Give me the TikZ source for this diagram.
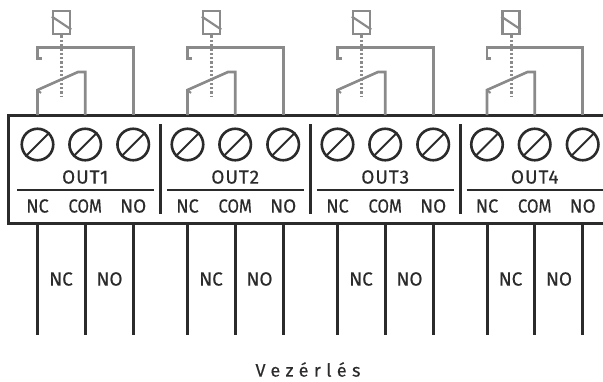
\documentclass[tikz,border=0pt]{standalone}
\usepackage{fontspec}
\usetikzlibrary{calc}
\setmainfont{Fira Sans}
\definecolor{relaygray}{HTML}{8A8A8A}
\definecolor{inkdark}{HTML}{2B2B2B}
\tikzset{
  x=1pt,y=-1pt,
  relay/.style={draw=relaygray,line width=2.6pt,line join=miter},
  dark/.style={draw=inkdark,line width=3pt},
  thin rule/.style={draw=inkdark,line width=1.4pt},
  screw/.style={circle,draw=inkdark,line width=2.6pt,minimum size=31.5pt,inner sep=0pt},
  lab/.style={inner sep=0pt,text=inkdark,font=\fontsize{19}{19}\selectfont\addfontfeatures{FakeBold=0.4}},
}
\begin{document}
\begin{tikzpicture}
\useasboundingbox (0,0) rectangle (603,381);
% enclosure
\coordinate (tl) at (8.5,115.5);
\coordinate (bl) at (8.5,223);
\coordinate (tr) at (603,115.5);
\coordinate (br) at (603,223);
\draw[dark] (tr) -- (tl) -- (bl) -- (br);
\foreach \i/\dx in {1/0,2/150,3/300,4/449.5}{
  \begin{scope}[shift={(\dx,0)}]
    % wires
    \coordinate (a\i) at (37.5,115);
    \coordinate (b\i) at (85.2,115);
    \coordinate (c\i) at (133.2,115);
    \coordinate (ad\i) at (37.5,223);
    \coordinate (bd\i) at (85.2,223);
    \coordinate (cd\i) at (133.2,223);
    \coordinate (ae\i) at (37.5,335);
    \coordinate (be\i) at (85.2,335);
    \coordinate (ce\i) at (133.2,335);
    \draw[dark] (ad\i) -- (ae\i);
    \draw[dark] (bd\i) -- (be\i);
    \draw[dark] (cd\i) -- (ce\i);
    % relay
    \node[draw=relaygray,line width=2.4pt,minimum width=17pt,minimum height=23.5pt,inner sep=0pt] (coil\i) at (61.5,22.5) {};
    \draw[relay,line width=2.2pt] ($(coil\i.north west)+(0,7)$) -- ($(coil\i.south east)+(0,-6)$);
    \coordinate (dot\i) at (61.5,96);
    \draw[relaygray,line width=3pt,dash pattern=on 2.3pt off 2pt] (coil\i.south) -- (dot\i);
    \draw[relay] (41.5,58.5) -- (37.5,58.5) -- (37.5,47.5) -- (133.2,47.5) -- (c\i);
    \draw[relay] (a\i) -- (37.5,90) -- (78,72) -- (85.2,72) -- (b\i);
    \draw[relay,line width=2pt] (37.5,90) -- (41,93);
    % screws
    \foreach \n/\x in {s/37.5,t/85.2,u/133.2}{
      \node[screw] (\n\i) at (\x,144.5) {};
      \draw[inkdark,line width=2pt] (\n\i.225) -- (\n\i.45);
    }
    % labels
    \node[lab,font=\fontsize{19}{19}\selectfont\addfontfeatures{FakeBold=0.4,LetterSpace=5}] (out\i) at (85.2,177) {OUT\i};
    \draw[thin rule] (17,190) -- (154,190);
    \node[lab,xscale=.95] (nc\i) at (37.5,206) {NC};
    \node[lab,xscale=.88] (com\i) at (85.2,206) {COM};
    \node[lab] (no\i) at (133.2,206) {NO};
    \node[lab] (wnc\i) at (61,279) {NC};
    \node[lab] (wno\i) at (109.5,279) {NO};
  \end{scope}
}
\foreach \x in {160,310,460}{
  \draw[dark] (\x,124) -- (\x,214);
}
\node[inner sep=0pt,text=inkdark,font=\fontsize{18}{18}\selectfont\addfontfeatures{FakeBold=0.3,LetterSpace=30}] (ctl) at (308,369.5) {Vezérlés};
\end{tikzpicture}
\end{document}
